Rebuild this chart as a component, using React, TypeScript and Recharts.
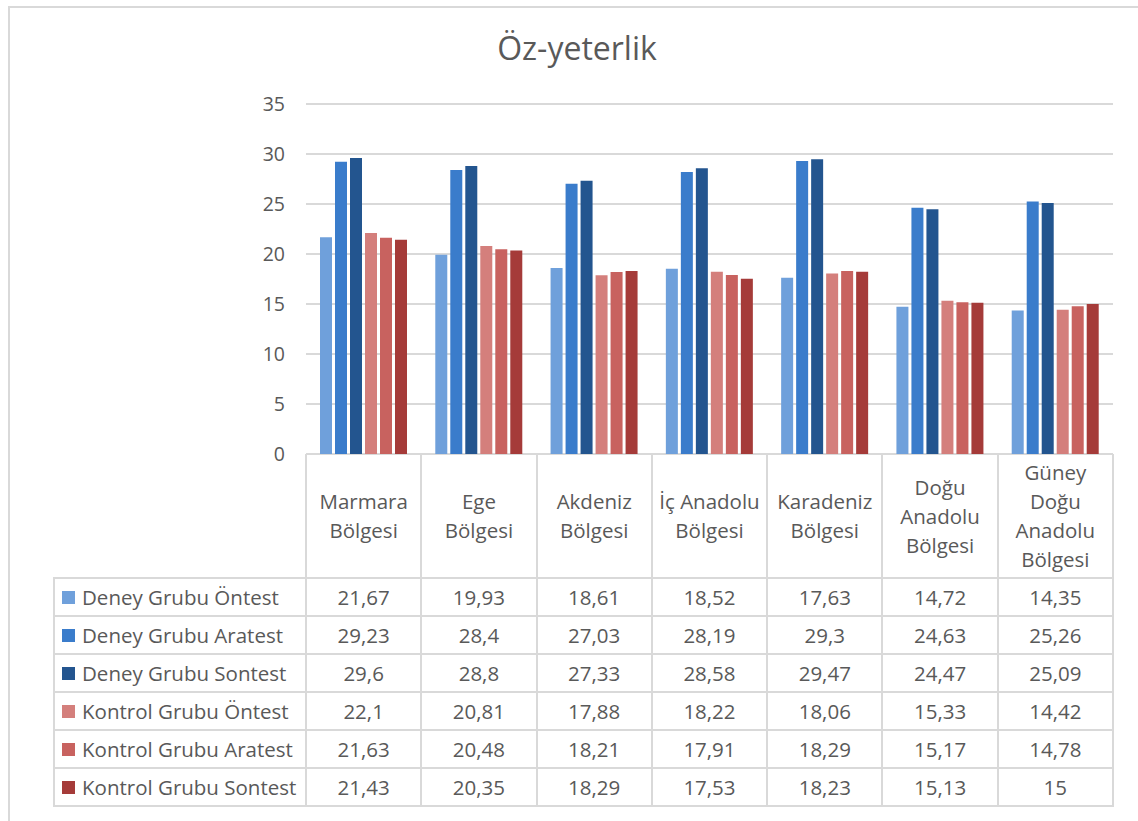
import React from 'react';
import { BarChart, Bar, XAxis, YAxis, CartesianGrid } from 'recharts';

// Region names (line breaks follow the header cells of the data table)
const categories = [
  'Marmara\nBölgesi',
  'Ege\nBölgesi',
  'Akdeniz\nBölgesi',
  'İç Anadolu\nBölgesi',
  'Karadeniz\nBölgesi',
  'Doğu\nAnadolu\nBölgesi',
  'Güney\nDoğu\nAnadolu\nBölgesi',
];

const deneyOntest = [21.67, 19.93, 18.61, 18.52, 17.63, 14.72, 14.35];
const deneyAratest = [29.23, 28.4, 27.03, 28.19, 29.3, 24.63, 25.26];
const deneySontest = [29.6, 28.8, 27.33, 28.58, 29.47, 24.47, 25.09];
const kontrolOntest = [22.1, 20.81, 17.88, 18.22, 18.06, 15.33, 14.42];
const kontrolAratest = [21.63, 20.48, 18.21, 17.91, 18.29, 15.17, 14.78];
const kontrolSontest = [21.43, 20.35, 18.29, 17.53, 18.23, 15.13, 15];

const seriesNames = [
  'Deney Grubu Öntest',
  'Deney Grubu Aratest',
  'Deney Grubu Sontest',
  'Kontrol Grubu Öntest',
  'Kontrol Grubu Aratest',
  'Kontrol Grubu Sontest',
];
const seriesValues = [deneyOntest, deneyAratest, deneySontest, kontrolOntest, kontrolAratest, kontrolSontest];
const COLORS = ['#6FA0DB', '#3A7CCB', '#23558F', '#D47F7C', '#C8625F', '#A53B39'];
const yTicks = [0, 5, 10, 15, 20, 25, 30, 35];

const FONT = '"Open Sans", Lato, sans-serif';
const TEXT = '#595959';
const LINE = '#D9D9D9';

// layout of the plot / table
const PLOT_LEFT = 306;
const PLOT_RIGHT = 1113;
const PLOT_TOP = 104;
const PLOT_BOTTOM = 454;
const HEADER_BOTTOM = 578;
const ROW_H = 38;
const LEGEND_LEFT = 54;
const TABLE_FONT = 20.5;

const data = categories.map((c, i) => {
  const row: any = { name: c };
  seriesNames.forEach((s, k) => {
    row[s] = seriesValues[k][i];
  });
  return row;
});

const fmt = (v: number) => String(v).replace('.', ',');

export default function App() {
  const colW = (PLOT_RIGHT - PLOT_LEFT) / categories.length;
  const tableBottom = HEADER_BOTTOM + ROW_H * seriesNames.length;

  return (
    <div style={{ position: 'absolute', left: 0, top: 0, width: 1138, height: 821, overflow: 'hidden', background: '#fff', fontFamily: FONT }}>
      {/* chart frame */}
      <div style={{ position: 'absolute', left: 8, top: 6, width: 1200, height: 900, border: `2px solid ${LINE}` }} />

      <div style={{ position: 'absolute', left: 0, top: 26, width: 1154, textAlign: 'center', fontSize: 32, color: TEXT }}>
        Öz-yeterlik
      </div>

      <div style={{ position: 'absolute', left: 0, top: 0 }}>
        <BarChart
          width={1138}
          height={821}
          data={data}
          margin={{ top: PLOT_TOP, right: 1138 - PLOT_RIGHT, bottom: 821 - PLOT_BOTTOM, left: PLOT_LEFT - 50 }}
          barCategoryGap={14}
          barGap={3}
        >
          <CartesianGrid vertical={false} stroke={LINE} strokeWidth={2} />
          <XAxis dataKey="name" hide />
          <YAxis
            width={50}
            domain={[0, 35]}
            ticks={yTicks}
            axisLine={false}
            tickLine={false}
            tickMargin={15}
            tick={{ fill: TEXT, fontSize: 19.5, fontFamily: FONT }}
          />
          {seriesNames.map((s, k) => (
            <Bar key={s} dataKey={s} fill={COLORS[k]} isAnimationActive={false} />
          ))}
        </BarChart>
      </div>

      {/* data table: lines */}
      {categories.concat(['']).map((_, i) => (
        <div
          key={`v${i}`}
          style={{ position: 'absolute', left: PLOT_LEFT + i * colW - 1, top: PLOT_BOTTOM, width: 2, height: tableBottom - PLOT_BOTTOM + 1, background: LINE }}
        />
      ))}
      <div style={{ position: 'absolute', left: LEGEND_LEFT - 1, top: HEADER_BOTTOM, width: 2, height: tableBottom - HEADER_BOTTOM + 1, background: LINE }} />
      {seriesNames.concat(['']).map((_, i) => (
        <div
          key={`h${i}`}
          style={{ position: 'absolute', left: LEGEND_LEFT - 1, top: HEADER_BOTTOM + i * ROW_H - 1, width: PLOT_RIGHT - LEGEND_LEFT + 2, height: 2, background: LINE }}
        />
      ))}

      {/* header cells */}
      {categories.map((c, i) => (
        <div
          key={`c${i}`}
          style={{
            position: 'absolute', left: PLOT_LEFT + i * colW, top: PLOT_BOTTOM, width: colW, height: HEADER_BOTTOM - PLOT_BOTTOM,
            display: 'flex', flexDirection: 'column', justifyContent: 'center', alignItems: 'center',
            fontSize: TABLE_FONT, lineHeight: '29px', color: TEXT, whiteSpace: 'nowrap',
          }}
        >
          {c.split('\n').map((ln) => (
            <div key={ln}>{ln}</div>
          ))}
        </div>
      ))}

      {/* rows */}
      {seriesNames.map((s, k) => (
        <React.Fragment key={s}>
          <div
            style={{
              position: 'absolute', left: LEGEND_LEFT, top: HEADER_BOTTOM + k * ROW_H, width: PLOT_LEFT - LEGEND_LEFT, height: ROW_H,
              display: 'flex', alignItems: 'center', fontSize: TABLE_FONT, color: TEXT, whiteSpace: 'nowrap',
            }}
          >
            <span style={{ display: 'inline-block', width: 13, height: 13, background: COLORS[k], marginLeft: 8, marginRight: 7 }} />
            {s}
          </div>
          {seriesValues[k].map((v, i) => (
            <div
              key={i}
              style={{
                position: 'absolute', left: PLOT_LEFT + i * colW, top: HEADER_BOTTOM + k * ROW_H, width: colW, height: ROW_H,
                display: 'flex', alignItems: 'center', justifyContent: 'center', fontSize: TABLE_FONT, color: TEXT,
              }}
            >
              {fmt(v)}
            </div>
          ))}
        </React.Fragment>
      ))}
    </div>
  );
}
